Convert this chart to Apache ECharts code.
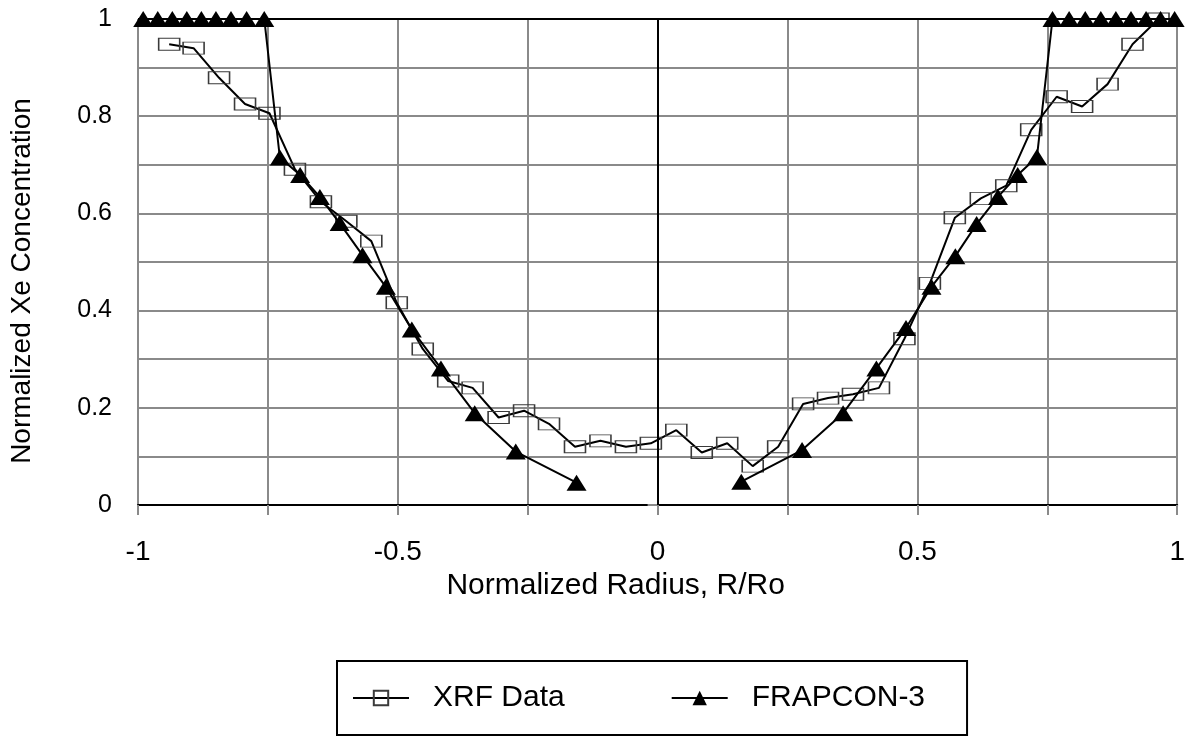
<!DOCTYPE html>
<html>
<head>
<meta charset="utf-8">
<script src="https://cdn.jsdelivr.net/npm/echarts@6/dist/echarts.min.js"></script>
<style>html,body{margin:0;padding:0;background:#fff}#c{width:1188px;height:736px}</style>
</head>
<body>
<div id="c"></div>
<script>
var xrfX = [-0.940,-0.893,-0.844,-0.794,-0.747,-0.698,-0.648,-0.599,-0.551,-0.502,-0.452,-0.403,-0.356,-0.306,-0.257,-0.209,-0.159,-0.110,-0.061,-0.013,0.036,0.085,0.134,0.183,0.232,0.280,0.328,0.376,0.426,0.475,0.524,0.572,0.622,0.671,0.719,0.768,0.817,0.866,0.914,0.964];
var xrfY = [0.948,0.940,0.879,0.825,0.806,0.691,0.624,0.584,0.543,0.416,0.321,0.255,0.241,0.180,0.194,0.167,0.120,0.132,0.120,0.127,0.154,0.108,0.127,0.080,0.120,0.208,0.220,0.228,0.241,0.342,0.456,0.591,0.631,0.657,0.772,0.840,0.820,0.866,0.948,1.000];
var frapLeftX = [-0.990,-0.962,-0.934,-0.906,-0.878,-0.850,-0.821,-0.791,-0.757,-0.727,-0.688,-0.650,-0.612,-0.568,-0.523,-0.473,-0.417,-0.352,-0.273,-0.156];
var frapLeftY = [1,1,1,1,1,1,1,1,1,0.715,0.679,0.634,0.580,0.514,0.449,0.361,0.281,0.189,0.110,0.046];
var frapRightX = [0.161,0.278,0.357,0.421,0.478,0.527,0.573,0.614,0.655,0.693,0.730,0.760,0.792,0.823,0.853,0.882,0.911,0.940,0.968,0.995];
var frapRightY = [0.048,0.113,0.189,0.281,0.364,0.449,0.512,0.578,0.634,0.679,0.716,1,1,1,1,1,1,1,1,1];
var xTickLabels = ['-1','-0.5','0','0.5','1'];
var yTickLabels = ['0','0.2','0.4','0.6','0.8','1'];

function pairs(xs, ys){ return xs.map(function(x,i){ return [x, ys[i]]; }); }
var FONT = '"Liberation Sans", Arial, sans-serif';
var GRID = '#8a8a8a';

var chart = echarts.init(document.getElementById('c'), null, {renderer:'canvas'});
var frapStyle = {
  type:'line', name:'FRAPCON-3', symbol:'triangle', symbolSize:[20,16],
  itemStyle:{color:'#000'}, lineStyle:{color:'#000', width:2}, z:3, animation:false
};
chart.setOption({
  animation:false,
  backgroundColor:'#fff',
  textStyle:{fontFamily:FONT},
  grid:{left:136, right:0, top:19, bottom:231, containLabel:false},
  legend:{
    left:337, top:661, orient:'horizontal',
    padding:[21, 42, 21, 15], itemGap:106, itemWidth:56, itemHeight:18,
    borderColor:'#000', borderWidth:2,
    textStyle:{fontFamily:FONT, fontSize:30, lineHeight:32, color:'#000', padding:[0,0,0,19]},
    data:['XRF Data','FRAPCON-3']
  },
  xAxis:{
    type:'value', min:-1, max:1, interval:0.5,
    name:'Normalized Radius, R/Ro', nameLocation:'middle', nameGap:63,
    nameTextStyle:{fontFamily:FONT, fontSize:30, color:'#000', padding:[0,84,0,0]},
    axisLine:{show:true, onZero:false, lineStyle:{color:'#000', width:2}},
    axisTick:{show:true, length:10, lineStyle:{color:GRID, width:2}},
    minorTick:{show:true, splitNumber:2, length:10, lineStyle:{color:GRID, width:2}},
    splitLine:{show:true, lineStyle:{color:GRID, width:2}},
    minorSplitLine:{show:true, lineStyle:{color:GRID, width:2}},
    axisLabel:{fontFamily:FONT, fontSize:28, color:'#000', margin:33,
      formatter:function(v){ var i = Math.round((v+1)/0.5); return xTickLabels[i] !== undefined ? xTickLabels[i] : ''; }}
  },
  yAxis:{
    type:'value', min:0, max:1, interval:0.2,
    name:'Normalized Xe Concentration', nameLocation:'middle', nameGap:102, nameRotate:90,
    nameTextStyle:{fontFamily:FONT, fontSize:28, color:'#000', padding:[0,38,0,0]},
    axisLine:{show:true, lineStyle:{color:'#000', width:2}},
    axisTick:{show:true, length:10, lineStyle:{color:GRID, width:2}},
    minorTick:{show:true, splitNumber:2, length:4, lineStyle:{color:GRID, width:2}},
    splitLine:{show:true, lineStyle:{color:GRID, width:2}},
    minorSplitLine:{show:true, lineStyle:{color:GRID, width:2}},
    axisLabel:{fontFamily:FONT, fontSize:25, color:'#000', margin:26,
      formatter:function(v){ var i = Math.round(v/0.2); return yTickLabels[i] !== undefined ? yTickLabels[i] : ''; }}
  },
  series:[
    {
      type:'line', name:'XRF Data', data:pairs(xrfX, xrfY),
      symbol:'rect', symbolSize:[21,12],
      itemStyle:{color:'rgba(255,255,255,0)', borderColor:'#3a3a3a', borderWidth:1.2},
      lineStyle:{color:'#000', width:2}, z:2, animation:false,
      markLine:{
        silent:true, symbol:'none', animation:false,
        label:{show:false},
        lineStyle:{color:'#000', width:2, type:'solid'},
        data:[{xAxis:0},{yAxis:1}]
      }
    },
    Object.assign({data:pairs(frapLeftX, frapLeftY)}, frapStyle),
    Object.assign({data:pairs(frapRightX, frapRightY)}, frapStyle)
  ]
});
</script>
</body>
</html>
